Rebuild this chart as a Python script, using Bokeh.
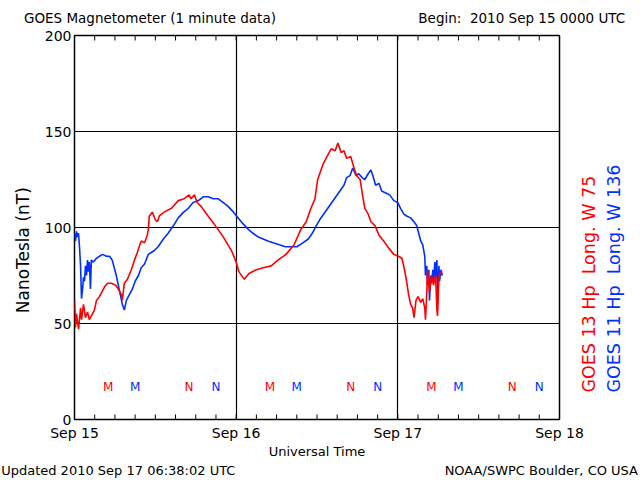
import math
from bokeh.plotting import figure
from bokeh.models import LinearAxis, FixedTicker, Range1d, ColumnDataSource
from bokeh.core.properties import value
from bokeh.embed import file_html
from bokeh.resources import INLINE

# hours since 2010 Sep 15 00:00 UTC
g13_hours = [0.0, 0.15, 0.3, 0.6, 0.9, 1.04, 1.33, 1.63, 1.93, 2.2, 2.5, 2.96, 3.26, 3.7, 4.0, 4.44, 4.9, 5.5,
             6.07, 6.5, 6.96, 7.1, 7.4, 7.85, 8.44, 8.9, 9.33, 9.6, 9.9, 10.4, 10.8, 10.96, 11.1, 11.55, 12.0,
             12.3, 12.6, 13.3, 14.4, 15.4, 16.3, 17.0, 17.3, 17.8, 18.2, 18.8, 19.6, 20.7, 22.1, 23.3, 24.0,
             24.4, 25.2, 25.9, 27.0, 28.0, 29.2, 30.2, 31.4, 32.6, 33.6, 34.4, 35.1, 35.7, 36.1, 36.9, 37.5,
             38.1, 38.7, 39.1, 39.6, 40.0, 40.4, 41.0, 41.5, 41.9, 42.4, 42.8, 43.1, 43.6, 44.0, 44.6, 45.2,
             45.9, 46.7, 47.4, 48.1, 48.6, 49.0, 49.3, 49.6, 49.9, 50.2, 50.4, 50.7, 51.0, 51.4, 51.7, 52.0,
             52.1, 52.3, 52.4, 52.7, 53.0, 53.3, 53.6, 53.8, 53.9, 54.1, 54.4, 54.6]
g13_nt = [62, 48, 55, 47, 58, 52, 60, 53, 56, 52, 54, 57, 62, 64, 66, 69, 71, 71,
          70, 68, 65, 62, 71, 73, 78, 83, 87, 90, 93, 92, 96, 99, 106, 108, 104,
          103, 106, 108, 110, 114, 115, 117, 115, 117, 113, 111, 107, 102, 95, 88, 82,
          77, 73, 76, 78, 79, 80, 83, 86, 91, 99, 103, 110, 115, 125, 133, 137,
          141, 140, 144, 139, 140, 136, 137, 131, 127, 125, 116, 110, 107, 103, 101, 96,
          93, 89, 86, 85, 84, 78, 72, 65, 60, 58, 53, 62, 64, 61, 63, 58,
          52, 66, 78, 66, 75, 70, 75, 57, 54, 75, 77, 77]

g11_hours = [0.0, 0.15, 0.3, 0.44, 0.6, 0.74, 0.9, 1.04, 1.2, 1.33, 1.48, 1.63, 1.78, 1.93, 2.07, 2.2, 2.37,
             2.5, 2.8, 3.26, 3.7, 4.15, 4.74, 5.2, 5.6, 5.9, 6.2, 6.5, 6.8, 7.1, 7.4, 7.7, 8.15, 8.6, 9.0,
             9.5, 9.9, 10.4, 10.96, 11.4, 11.85, 12.4, 13.2, 13.9, 14.7, 15.4, 16.2, 16.9, 17.6, 18.4, 19.1,
             19.85, 20.6, 21.3, 22.1, 22.8, 23.6, 24.3, 25.0, 25.8, 26.5, 27.3, 28.0, 28.7, 29.5, 30.4, 31.3,
             32.1, 33.0, 33.9, 34.7, 35.3, 35.9, 36.4, 37.0, 37.6, 38.2, 38.8, 39.4, 40.0, 40.4, 40.9, 41.3,
             41.8, 42.2, 42.7, 43.1, 43.6, 44.0, 44.3, 44.7, 45.2, 45.6, 46.2, 46.8, 47.4, 48.0, 48.4, 48.9,
             49.3, 49.9, 50.4, 50.8, 51.1, 51.4, 51.7, 52.0, 52.1, 52.3, 52.4, 52.6, 52.7, 52.9, 53.0, 53.2,
             53.3, 53.5, 53.6, 53.8, 53.9, 54.1, 54.2, 54.4, 54.6]
g11_nt = [97, 93, 98, 95, 97, 90, 80, 63, 68, 74, 72, 80, 75, 83, 77, 82, 68,
          83, 82, 84, 85, 86, 85, 85, 83, 79, 75, 70, 65, 60, 57, 62, 65, 68, 72,
          75, 79, 81, 86, 87, 88, 90, 94, 97, 101, 105, 108, 110, 113, 114, 116,
          116, 115, 115, 113, 111, 108, 105, 102, 99, 97, 95, 94, 93, 92, 91, 90,
          90, 90, 92, 94, 97, 101, 104, 107, 110, 113, 116, 119, 122, 126, 127, 131,
          127, 128, 126, 125, 128, 130, 127, 122, 123, 119, 118, 117, 114, 113, 110, 107,
          106, 105, 103, 101, 97, 93, 91, 85, 75, 80, 70, 78, 62, 75, 71, 78,
          72, 82, 74, 83, 60, 80, 72, 78, 75]

# local midnight (M) and noon (N) markers
g13_m_hours = [5, 29, 53]
g13_n_hours = [17, 41, 65]
g11_m_hours = [9, 33, 57]
g11_n_hours = [21, 45, 69]
marker_level = 17

day_ticks = [0, 24, 48, 72]
day_labels = ["Sep 15", "Sep 16", "Sep 17", "Sep 18"]
minor_hours = list(range(3, 72, 3))
nt_ticks = [0, 50, 100, 150, 200]

title_text = "GOES Magnetometer (1 minute data)"
begin_text = "Begin:\u00a0 2010 Sep 15 0000 UTC"
updated_text = "Updated 2010 Sep 17 06:38:02 UTC"
credit_text = "NOAA/SWPC Boulder, CO USA"
xlabel_text = "Universal Time"
ylabel_text = "NanoTesla (nT)"
g13_text = "GOES 13 Hp\u00a0 Long. W 75"
g11_text = "GOES 11 Hp\u00a0 Long. W 136"

RED = "#ff0000"
BLUE = "#0030ff"
FONT = "DejaVu Sans"

p = figure(width=640, height=480, x_range=Range1d(0, 72), y_range=Range1d(0, 200),
           output_backend="svg", toolbar_location=None,
           min_border_left=73, min_border_right=81, min_border_top=35, min_border_bottom=61,
           x_axis_location=None, y_axis_location=None)
p.background_fill_color = "white"
p.border_fill_color = "white"
p.outline_line_color = "black"
p.outline_line_width = 1.5


def text_axis(side, pos, labels, color="black", size="13px", standoff=5, orient="horizontal"):
    ax = LinearAxis(ticker=FixedTicker(ticks=pos))
    ax.major_label_overrides = {t: l for t, l in zip(pos, labels)}
    ax.major_label_text_font = FONT
    ax.major_label_text_font_size = size
    ax.major_label_text_color = color
    ax.major_label_standoff = standoff
    ax.major_label_orientation = orient
    ax.major_tick_in = 0
    ax.major_tick_out = 0
    ax.minor_tick_line_color = None
    ax.axis_line_color = None
    p.add_layout(ax, side)
    return ax


# bottom: day labels, "Universal Time", then update time and credit
text_axis("below", day_ticks, day_labels, size="14px", standoff=5)
text_axis("below", [36.0], [xlabel_text], size="13px", standoff=0)
text_axis("below", [6.5, 69.3], [updated_text, credit_text], size="13px", standoff=1)

# top line: title and begin time
text_axis("above", [11.2, 66.4], [title_text, begin_text], size="13.5px", standoff=10)

# left: value labels and y title
text_axis("left", nt_ticks, [str(t) for t in nt_ticks], size="14px", standoff=3)
text_axis("left", [121.0], [ylabel_text], size="17px", standoff=18, orient=math.pi / 2)

# right: satellite labels (anchored at their lower end)
text_axis("right", [14.0], [g13_text], color=RED, size="17.5px", standoff=30, orient=math.pi / 2)
text_axis("right", [14.0], [g11_text], color=BLUE, size="17.5px", standoff=2, orient=math.pi / 2)

p.xgrid.ticker = FixedTicker(ticks=[24, 48])
p.ygrid.ticker = FixedTicker(ticks=[50, 100, 150])
for g in (p.xgrid, p.ygrid):
    g.grid_line_color = "black"
    g.grid_line_width = 1.2

# inward 3-hour tick marks along bottom and top edges (5 px = 200/384*5 nT)
tick_len = 200 / 384 * 5
p.segment(x0=minor_hours, y0=[0] * len(minor_hours), x1=minor_hours, y1=[tick_len] * len(minor_hours),
          line_color="black", line_width=1)
p.segment(x0=minor_hours, y0=[200] * len(minor_hours), x1=minor_hours, y1=[200 - tick_len] * len(minor_hours),
          line_color="black", line_width=1)

p.line(g11_hours, g11_nt, line_color=BLUE, line_width=1.6)
p.line(g13_hours, g13_nt, line_color=RED, line_width=1.6)


def marks(hours, letter, color):
    src = ColumnDataSource(dict(x=hours, y=[marker_level] * len(hours), t=[letter] * len(hours)))
    p.text(x="x", y="y", text="t", source=src, text_color=color, text_font=value(FONT),
           text_font_size="12px", text_align="center", text_baseline="middle")


marks(g13_m_hours, "M", RED)
marks(g11_m_hours, "M", BLUE)
marks(g13_n_hours, "N", RED)
marks(g11_n_hours, "N", BLUE)

open("out.html", "w").write(file_html(p, INLINE))
